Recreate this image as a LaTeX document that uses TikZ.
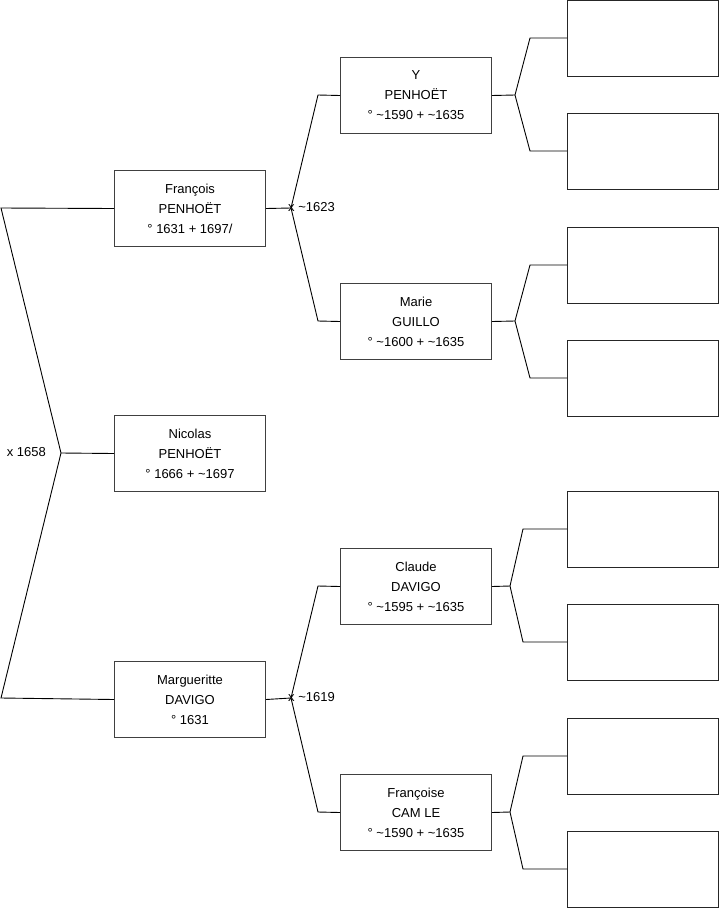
\documentclass[tikz,border=0pt]{standalone}
\usepackage{fontspec}
\setmainfont{Liberation Sans}
\begin{document}
\begin{tikzpicture}[x=1pt,y=-1pt,
  person/.style={draw=black!75,line width=1pt,minimum width=151pt,minimum height=76pt,anchor=north west,inner sep=0pt,align=center,font=\fontsize{13}{20}\selectfont},
  empty/.style={draw=black!85,line width=1pt,minimum width=151pt,minimum height=76pt,anchor=north west,inner sep=0pt},
  link/.style={draw=black,line width=0.9pt},
  lbl/.style={inner sep=0pt,font=\fontsize{13}{15}\selectfont}]
\useasboundingbox (0,0) rectangle (719,908);
% column 1
\node[person] (fr) at (114,170) {François\\PENHOËT\\° 1631 + 1697/};
\node[person] (ni) at (114,415) {Nicolas\\PENHOËT\\° 1666 + \textasciitilde1697};
\node[person] (ma) at (114,661) {Margueritte\\DAVIGO\\° 1631};
% column 2
\node[person] (y) at (340,57) {Y\\PENHOËT\\° \textasciitilde1590 + \textasciitilde1635};
\node[person] (mr) at (340,283) {Marie\\GUILLO\\° \textasciitilde1600 + \textasciitilde1635};
\node[person] (cl) at (340,548) {Claude\\DAVIGO\\° \textasciitilde1595 + \textasciitilde1635};
\node[person] (fs) at (340,774) {Françoise\\CAM LE\\° \textasciitilde1590 + \textasciitilde1635};
% column 3
\node[empty] (e1) at (567,0) {};
\node[empty] (e2) at (567,113) {};
\node[empty] (e3) at (567,227) {};
\node[empty] (e4) at (567,340) {};
\node[empty] (e5) at (567,491) {};
\node[empty] (e6) at (567,604) {};
\node[empty] (e7) at (567,718) {};
\node[empty] (e8) at (567,831) {};
% junction coordinates
\coordinate (j0) at (61,453);
\coordinate (a0) at (1,208);
\coordinate (b0) at (1,698);
\coordinate (j1) at (291,208);
\coordinate (j2) at (291,698);
\coordinate (jy) at (515,95);
\coordinate (jm) at (515,321);
\coordinate (jc) at (510,586);
\coordinate (jf) at (510,812);
% left family
\draw[link] (fr.west) -- (a0) -- (j0) -- (b0) -- (ma.west);
\draw[link] (j0) -- (ni.west);
\node[lbl,anchor=east] (l0) at (46,452) {x 1658};
% François parents
\draw[link] (fr.east) -- (j1);
\draw[link] (y.west) -- (318,95) -- (j1) -- (318,321) -- (mr.west);
\node[lbl,anchor=west] (l1) at (288,207) {x \textasciitilde1623};
% Margueritte parents
\draw[link] (ma.east) -- (j2);
\draw[link] (cl.west) -- (318,586) -- (j2) -- (318,812) -- (fs.west);
\node[lbl,anchor=west] (l2) at (288,697) {x \textasciitilde1619};
% grandparents
\draw[link] (y.east) -- (jy);
\draw[link] (e1.west |- 0,38) -- (530,38) -- (jy) -- (530,151) -- (e2.west |- 0,151);
\draw[link] (mr.east) -- (jm);
\draw[link] (e3.west |- 0,265) -- (530,265) -- (jm) -- (530,378) -- (e4.west |- 0,378);
\draw[link] (cl.east) -- (jc);
\draw[link] (e5.west |- 0,529) -- (523,529) -- (jc) -- (523,642) -- (e6.west |- 0,642);
\draw[link] (fs.east) -- (jf);
\draw[link] (e7.west |- 0,756) -- (523,756) -- (jf) -- (523,869) -- (e8.west |- 0,869);
\end{tikzpicture}
\end{document}
